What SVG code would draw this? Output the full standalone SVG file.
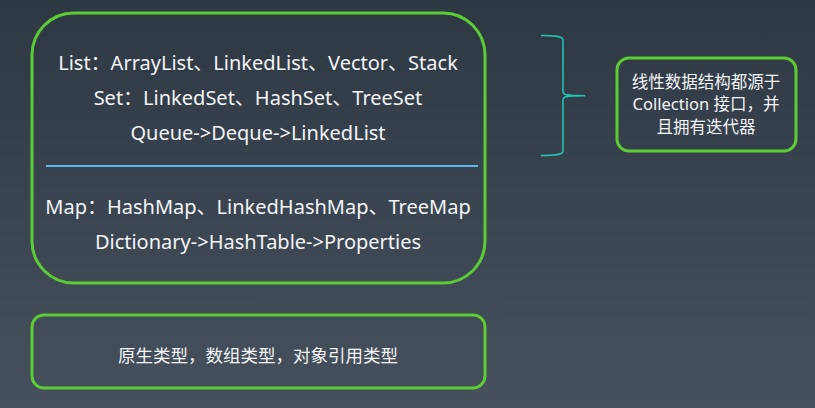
<svg xmlns="http://www.w3.org/2000/svg" width="815" height="408" viewBox="0 0 815 408">
<defs>
<linearGradient id="bg" x1="0" y1="0" x2="0" y2="1">
<stop offset="0" stop-color="#2e3843"/>
<stop offset="1" stop-color="#47515e"/>
</linearGradient>
<style>
.box{fill:none;stroke:#5ccc35;stroke-width:3}
.t{font-family:"Noto Sans","Noto Sans CJK SC",sans-serif;fill:#f2f4f6;text-anchor:middle}
.big{font-size:20px}
.mid{font-size:17.5px}
.sm{font-size:16.5px}
</style>
</defs>
<rect width="815" height="408" fill="url(#bg)"/>
<g id="collections">
<rect class="box" x="32" y="13" width="453" height="270" rx="42" ry="42"/>
<text class="t big" x="258" y="70">List：ArrayList、LinkedList、Vector、Stack</text>
<text class="t big" x="258" y="105">Set：LinkedSet、HashSet、TreeSet</text>
<text class="t big" x="258" y="140">Queue-&gt;Deque-&gt;LinkedList</text>
<line x1="46" y1="166" x2="478" y2="166" stroke="#5ab8ef" stroke-width="2"/>
<text class="t big" x="258" y="214">Map：HashMap、LinkedHashMap、TreeMap</text>
<text class="t big" x="258" y="249">Dictionary-&gt;HashTable-&gt;Properties</text>
</g>
<g id="types">
<rect class="box" x="32" y="315" width="453" height="73" rx="12" ry="12"/>
<text class="t mid" x="258" y="362">原生类型，数组类型，对象引用类型</text>
</g>
<g id="note">
<rect class="box" x="617" y="58" width="179" height="93" rx="12" ry="12"/>
<text class="t sm" x="706" y="87.5">线性数据结构都源于</text>
<text class="t sm" x="706" y="110">Collection 接口，并</text>
<text class="t sm" x="706" y="132.5">且拥有迭代器</text>
</g>
<g id="connectors">
<path d="M541,35.5 C555,35.5 563,36 563,40 L563,91 C563,95 566,95.7 585,95.7 C566,95.7 563,96.5 563,100 L563,151 C563,155 555,155.5 541,155.5" fill="none" stroke="#1fc8b4" stroke-width="1.5"/>
</g>
</svg>
